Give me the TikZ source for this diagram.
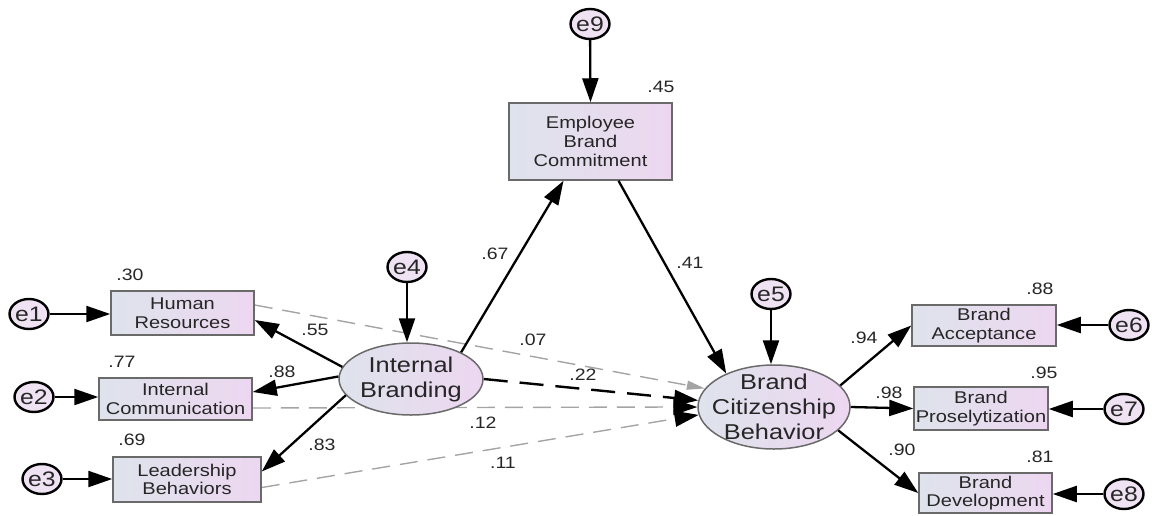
\documentclass[tikz,border=0pt]{standalone}
\usepackage{fontspec}
\newfontfamily\dfont[FakeStretch=1.18]{Liberation Sans}
\usetikzlibrary{arrows.meta,calc,backgrounds,shapes.geometric}
\definecolor{fillL}{HTML}{DEE3EC}
\definecolor{fillR}{HTML}{EDD7F0}
\definecolor{edge}{HTML}{6A6A6A}
\definecolor{txt}{HTML}{262626}
\definecolor{errfill}{HTML}{EFE2F2}
\definecolor{dash}{HTML}{A4A4A4}
\begin{document}
\begin{tikzpicture}[x=1pt,y=-1pt,
  obs/.style={draw=edge, line width=1.5pt, left color=fillL, right color=fillR,
    inner sep=0pt, align=center, text=txt, font=\dfont\fontsize{17}{18.5}\selectfont},
  lat/.style={ellipse, draw=edge, line width=1.5pt, left color=fillL, right color=fillR,
    inner sep=0pt},
  lattext/.style={align=center, text=txt, inner sep=0pt, font=\dfont\fontsize{21.5}{25}\selectfont},
  err/.style={ellipse, draw=black, line width=2.4pt, fill=errfill, minimum width=37pt,
    minimum height=30pt, inner sep=0pt, text=txt, font=\dfont\fontsize{21}{21}\selectfont},
  coef/.style={inner sep=0pt, text=txt, font=\dfont\fontsize{16.5}{18}\selectfont},
  solidpath/.style={line width=2.3pt, -{Triangle[length=24pt,width=16pt]}},
  minorpath/.style={line width=1.4pt, draw=dash, dash pattern=on 18pt off 10pt},
  mainpath/.style={line width=2.4pt, dash pattern=on 24pt off 12pt,
    -{Triangle[length=24pt,width=16pt]}}]
\useasboundingbox (0,0) rectangle (1152,515);

% observed indicators
\node[obs, minimum width=143pt, minimum height=44pt] (hr) at (182.5,313) {Human\\Resources};
\node[obs, minimum width=153pt, minimum height=42pt] (ic) at (175.5,399) {Internal\\Communication};
\node[obs, minimum width=148pt, minimum height=45pt] (lb) at (187,479.5) {Leadership\\Behaviors};
\node[obs, minimum width=163pt, minimum height=77pt, font=\dfont\fontsize{17}{19}\selectfont]
  (ebc) at (590.5,141.5) {Employee\\Brand\\Commitment};
\node[obs, minimum width=144pt, minimum height=41pt] (ba) at (984,325.5) {Brand\\Acceptance};
\node[obs, minimum width=134pt, minimum height=43pt] (bp) at (981,408.5) {Brand\\Proselytization};
\node[obs, minimum width=133pt, minimum height=40pt] (bd) at (985.5,493) {Brand\\Development};

% latent constructs
\node[lat, minimum width=144pt, minimum height=72pt] (ib) at (411,379) {};
\node[lattext] (ibt) at (ib) {Internal\\Branding};
\node[lat, minimum width=152pt, minimum height=84pt] (bcb) at (774,407) {};
\node[lattext] (bcbt) at (bcb) {Brand\\Citizenship\\Behavior};

% error terms
\node[err] (e1) at (29,314) {e1};
\node[err] (e2) at (34,397) {e2};
\node[err] (e3) at (42,479) {e3};
\node[err] (e4) at (407,267) {e4};
\node[err] (e9) at (590,24) {e9};
\node[err] (e5) at (771,294) {e5};
\node[err] (e6) at (1129,325) {e6};
\node[err] (e7) at (1124,409) {e7};
\node[err] (e8) at (1124,494) {e8};

% dashed direct effects, behind the constructs
\begin{pgfonlayer}{background}
  \draw[minorpath, -{Triangle[length=18pt,width=9pt]}, color=dash]
    ($(hr.east)+(0,-8)$) -- (bcb.165);
  \draw[minorpath] ($(ic.east)+(0,9)$) -- ($(bcb.west)+(-22,0)$);
  \draw[minorpath] ($(lb.east)+(0,8)$) -- ($(bcb.186)+(-22,3.5)$);
  \draw[line width=1.2pt, -{Triangle[length=24pt,width=16pt]}]
    ($(bcb.west)+(-23,0)$) -- (bcb.west);
  \draw[line width=1.2pt, -{Triangle[length=24pt,width=16pt]}]
    ($(bcb.186)+(-23,3.7)$) -- (bcb.186);
  \draw[mainpath] (ib.east) -- (bcb.175);
\end{pgfonlayer}

% solid paths
\draw[solidpath] (e1) -- (hr.west |- e1);
\draw[solidpath] (e2) -- (ic.west |- e2);
\draw[solidpath] (e3) -- (lb.west |- e3);
\draw[solidpath] (e4) -- (e4 |- ib.north);
\draw[solidpath] (e9) -- (ebc.north);
\draw[solidpath] (e5) -- (e5 |- bcb.north);
\draw[solidpath] (e6) -- (ba.east |- e6);
\draw[solidpath] (e7) -- (bp.east |- e7);
\draw[solidpath] (e8) -- (bd.east |- e8);
\draw[solidpath] (ib.170) -- ($(hr.east)+(0,7)$);
\draw[solidpath] (ib.178) -- ($(ic.east)+(0,-7)$);
\draw[solidpath] (ib.194) -- ($(lb.east)+(0,-8)$);
\draw[solidpath] (ib.28) -- ($(ebc.south)+(-27,0)$);
\draw[solidpath] ($(ebc.south)+(28,0)$) -- (bcb.145);
\draw[solidpath] (bcb.18) -- (ba.west);
\draw[solidpath] (bcb.east) -- (bp.west);
\draw[solidpath] (bcb.-20) -- (bd.west);

% estimates
\node[coef] at (130,275) {.30};
\node[coef] at (122,362) {.77};
\node[coef] at (132,440) {.69};
\node[coef] at (315,330) {.55};
\node[coef] at (282,372) {.88};
\node[coef] at (322,445) {.83};
\node[coef] at (495,254) {.67};
\node[coef] at (690,263) {.41};
\node[coef] at (661,87) {.45};
\node[coef] at (533,340) {.07};
\node[coef] at (583,375) {.22};
\node[coef] at (483,423) {.12};
\node[coef] at (503,463) {.11};
\node[coef] at (864,338) {.94};
\node[coef] at (889,393) {.98};
\node[coef] at (902,450) {.90};
\node[coef] at (1040,289) {.88};
\node[coef] at (1044,373) {.95};
\node[coef] at (1040,457) {.81};
\end{tikzpicture}
\end{document}
